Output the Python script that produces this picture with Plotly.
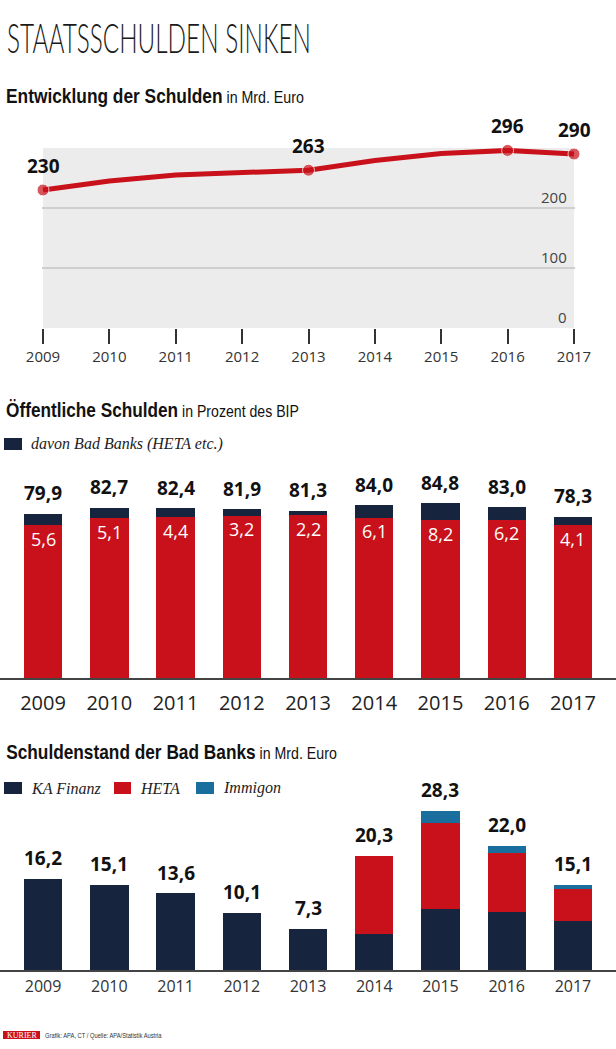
import json
import plotly.graph_objects as go

W, H = 616, 1049

# ---------------- data ----------------
years = [2009, 2010, 2011, 2012, 2013, 2014, 2015, 2016, 2017]
year_labels = ["2009", "2010", "2011", "2012", "2013", "2014", "2015", "2016", "2017"]

# Chart 1: Entwicklung der Schulden (Mrd. Euro)
debt = [230, 245, 255, 260, 263, 279, 291, 296, 290]
debt_labeled = [True, False, False, False, True, False, False, True, True]

# Chart 2: Öffentliche Schulden in % des BIP
debt_pct = [79.9, 82.7, 82.4, 81.9, 81.3, 84.0, 84.8, 83.0, 78.3]
badbank_pct = [5.6, 5.1, 4.4, 3.2, 2.2, 6.1, 8.2, 6.2, 4.1]
debt_pct_lbl = ["79,9", "82,7", "82,4", "81,9", "81,3", "84,0", "84,8", "83,0", "78,3"]
badbank_pct_lbl = ["5,6", "5,1", "4,4", "3,2", "2,2", "6,1", "8,2", "6,2", "4,1"]

# Chart 3: Schuldenstand der Bad Banks (Mrd. Euro)
ka_finanz = [16.2, 15.1, 13.6, 10.1, 7.3, 6.4, 10.8, 10.3, 8.7]
heta = [0, 0, 0, 0, 0, 13.9, 15.2, 10.5, 5.7]
immigon = [0, 0, 0, 0, 0, 0, 2.3, 1.2, 0.7]
bb_total = [16.2, 15.1, 13.6, 10.1, 7.3, 20.3, 28.3, 22.0, 15.1]
bb_total_lbl = ["16,2", "15,1", "13,6", "10,1", "7,3", "20,3", "28,3", "22,0", "15,1"]

# y-axis ticks of chart 1
debt_ticks = [0, 100, 200]
debt_tick_lbl = ["0", "100", "200"]

# ---------------- style ----------------
RED = "#c8111a"
NAVY = "#17243e"
BLUE = "#1a6e9e"
GRAY_BG = "#ececec"
SANS = "Liberation Sans, Arial, sans-serif"
LIGHT = "Lato, Liberation Sans, sans-serif"
NUM = "Open Sans, Noto Sans, sans-serif"
SERIF = "Liberation Serif, DejaVu Serif, serif"


def px(p):
    return p / W


def py(p):
    return 1 - p / H


fig = go.Figure()

# ---- Chart 1: line ----
fig.add_trace(go.Scatter(
    x=years, y=debt, mode="lines+markers",
    line=dict(color=RED, width=5),
    marker=dict(color=RED, size=[12 if l else 0 for l in debt_labeled]),
    cliponaxis=False, showlegend=False, hoverinfo="skip",
    xaxis="x", yaxis="y",
))

# ---- Chart 2: stacked bars ----
rest_pct = [round(t - b, 1) for t, b in zip(debt_pct, badbank_pct)]
fig.add_trace(go.Bar(x=years, y=rest_pct, marker=dict(color=RED, line=dict(width=0)),
                     width=0.58, showlegend=False, xaxis="x2", yaxis="y2", hoverinfo="skip"))
fig.add_trace(go.Bar(x=years, y=badbank_pct, marker=dict(color=NAVY, line=dict(width=0)),
                     width=0.58, showlegend=False, xaxis="x2", yaxis="y2", hoverinfo="skip"))

# ---- Chart 3: stacked bars ----
for vals, col in [(ka_finanz, NAVY), (heta, RED), (immigon, BLUE)]:
    fig.add_trace(go.Bar(x=years, y=vals, marker=dict(color=col, line=dict(width=0)),
                         width=0.58, showlegend=False, xaxis="x3", yaxis="y3", hoverinfo="skip"))

ann = []
shapes = []
fit_width = {}  # text content -> target rendered width in px (emulates condensed fonts)

# Title
TITLE = "STAATSSCHULDEN SINKEN"
ann.append(dict(text=TITLE, x=px(5), y=py(37), xref="paper", yref="paper",
                xanchor="left", yanchor="middle", showarrow=False,
                font=dict(family=LIGHT, size=42, color="#1a1a1a", weight=300)))
fit_width[TITLE] = 304


# Section headers
def header(bold, light, ypix, width):
    ann.append(dict(text=f"<b>{bold}</b><span style='font-size:16px'> {light}</span>",
                    x=px(4), y=py(ypix), xref="paper", yref="paper",
                    xanchor="left", yanchor="middle", showarrow=False,
                    font=dict(family=SANS, size=19.5, color="#111")))
    fit_width[f"{bold} {light}"] = width


header("Entwicklung der Schulden", "in Mrd. Euro", 96, 298)
header("Öffentliche Schulden", "in Prozent des BIP", 410, 293)
header("Schuldenstand der Bad Banks", "in Mrd. Euro", 752, 331)

# Chart 1 background
shapes.append(dict(type="rect", xref="x", yref="y", x0=years[0], x1=years[-1], y0=0, y1=300,
                   fillcolor=GRAY_BG, line=dict(width=0), layer="below"))
# Chart 1 y tick labels (right-aligned, just above their gridlines)
for v, lbl in zip(debt_ticks, debt_tick_lbl):
    ann.append(dict(text=lbl, x=years[-1], y=v, xref="x", yref="y", showarrow=False,
                    xanchor="right", yanchor="bottom", xshift=-5, yshift=-1,
                    font=dict(family=NUM, size=15, color="#444")))

# Chart 1 labels
for x, v, l in zip(years, debt, debt_labeled):
    if l:
        ann.append(dict(text=str(v), x=x, y=v, xref="x", yref="y", showarrow=False,
                        yanchor="middle", yshift=24,
                        font=dict(family=NUM, size=19, color="#111", weight="bold")))

# Chart 2 labels
for x, t, b, tl, bl in zip(years, debt_pct, badbank_pct, debt_pct_lbl, badbank_pct_lbl):
    ann.append(dict(text=tl, x=x, y=t, xref="x2", yref="y2", showarrow=False,
                    yanchor="middle", yshift=20,
                    font=dict(family=NUM, size=19, color="#111", weight="bold")))
    ann.append(dict(text=bl, x=x, y=t - b, xref="x2", yref="y2", showarrow=False,
                    yanchor="middle", yshift=-14,
                    font=dict(family=NUM, size=18, color="white")))

# Chart 3 labels
for x, t, tl in zip(years, bb_total, bb_total_lbl):
    ann.append(dict(text=tl, x=x, y=t, xref="x3", yref="y3", showarrow=False,
                    yanchor="middle", yshift=21,
                    font=dict(family=NUM, size=19, color="#111", weight="bold")))


# Legends
def legend_item(x0, x1, ycen, color, label):
    shapes.append(dict(type="rect", xref="paper", yref="paper", x0=px(x0), x1=px(x1),
                       y0=py(ycen + 6), y1=py(ycen - 6), fillcolor=color, line=dict(width=0)))
    ann.append(dict(text=f"<i>{label}</i>", x=px(x1 + 7), y=py(ycen), xref="paper", yref="paper",
                    xanchor="left", yanchor="middle", showarrow=False,
                    font=dict(family=SERIF, size=16, color="#222")))


legend_item(4, 22, 444, NAVY, "davon Bad Banks (HETA etc.)")
legend_item(4, 22, 788, NAVY, "KA Finanz")
legend_item(114, 131, 788, RED, "HETA")
legend_item(196, 214, 788, BLUE, "Immigon")

# Footer
shapes.append(dict(type="rect", xref="paper", yref="paper", x0=px(3), x1=px(40),
                   y0=py(1039), y1=py(1031), fillcolor=RED, line=dict(width=0)))
ann.append(dict(text="KURIER", x=px(21.5), y=py(1035), xref="paper", yref="paper",
                xanchor="center", yanchor="middle", showarrow=False,
                font=dict(family=SERIF, size=8, color="white")))
FOOT = "Grafik: APA, CT / Quelle: APA/Statistik Austria"
ann.append(dict(text=FOOT, x=px(43), y=py(1035),
                xref="paper", yref="paper", xanchor="left", yanchor="middle", showarrow=False,
                font=dict(family=SANS, size=8, color="#333")))
fit_width[FOOT] = 117

# chart-1 x axis: small padding so the end ticks are kept
PAD = 0.02
K = (574 - 43) / (years[-1] - years[0])  # px per year

fig.update_layout(
    width=W, height=H, margin=dict(l=0, r=0, t=0, b=0, autoexpand=False),
    paper_bgcolor="white", plot_bgcolor="rgba(0,0,0,0)",
    barmode="stack", bargap=0,
    annotations=ann, shapes=shapes,
    xaxis=dict(domain=[px(43 - PAD * K), px(574 + PAD * K)],
               range=[years[0] - PAD, years[-1] + PAD], anchor="y",
               tickvals=years, ticktext=year_labels, ticks="outside", ticklen=15,
               tickwidth=1.5, tickcolor="#333", showline=False, showgrid=False, zeroline=False,
               tickfont=dict(family=NUM, size=15, color="#333")),
    yaxis=dict(domain=[py(328), py(148)], range=[0, 300], anchor="x", side="right",
               tickvals=[0, 100, 200, 300], showticklabels=False, ticks="", showgrid=True,
               gridcolor="#cfcfcf", gridwidth=2, zeroline=False, showline=False),
    xaxis2=dict(domain=[0, 1], range=[2008.35, 2017.65], anchor="y2",
                tickvals=years, ticktext=year_labels, ticks="outside", ticklen=6,
                tickcolor="rgba(0,0,0,0)", showline=True, linecolor="#444", linewidth=1.5,
                showgrid=False, zeroline=False,
                tickfont=dict(family=NUM, size=20, color="#222")),
    yaxis2=dict(domain=[py(678), py(678 - 206.5)], range=[0, 100], anchor="x2", visible=False),
    xaxis3=dict(domain=[0, 1], range=[2008.35, 2017.65], anchor="y3",
                tickvals=years, ticktext=year_labels, ticks="outside", ticklen=1,
                tickcolor="rgba(0,0,0,0)", showline=True, linecolor="#444", linewidth=1.5,
                showgrid=False, zeroline=False,
                tickfont=dict(family=NUM, size=16, color="#333")),
    yaxis3=dict(domain=[py(970), py(970 - 30 * 5.62)], range=[0, 30], anchor="x3", visible=False),
)

post = """
document.body.style.margin = '0';
document.documentElement.style.overflow = 'hidden';
var FIT = %s;
document.querySelectorAll('.annotation-text').forEach(function(t){
  var target = FIT[t.textContent];
  if (target) {
    var w = t.getBBox().width;
    if (w > 0) {
      t.style.transformBox = 'fill-box';
      t.style.transformOrigin = '0 50%%';
      t.style.transform = 'scaleX(' + (target / w) + ')';
    }
  }
});
""" % json.dumps(fit_width)

fig.write_html("out.html", post_script=post, config={"displayModeBar": False})
